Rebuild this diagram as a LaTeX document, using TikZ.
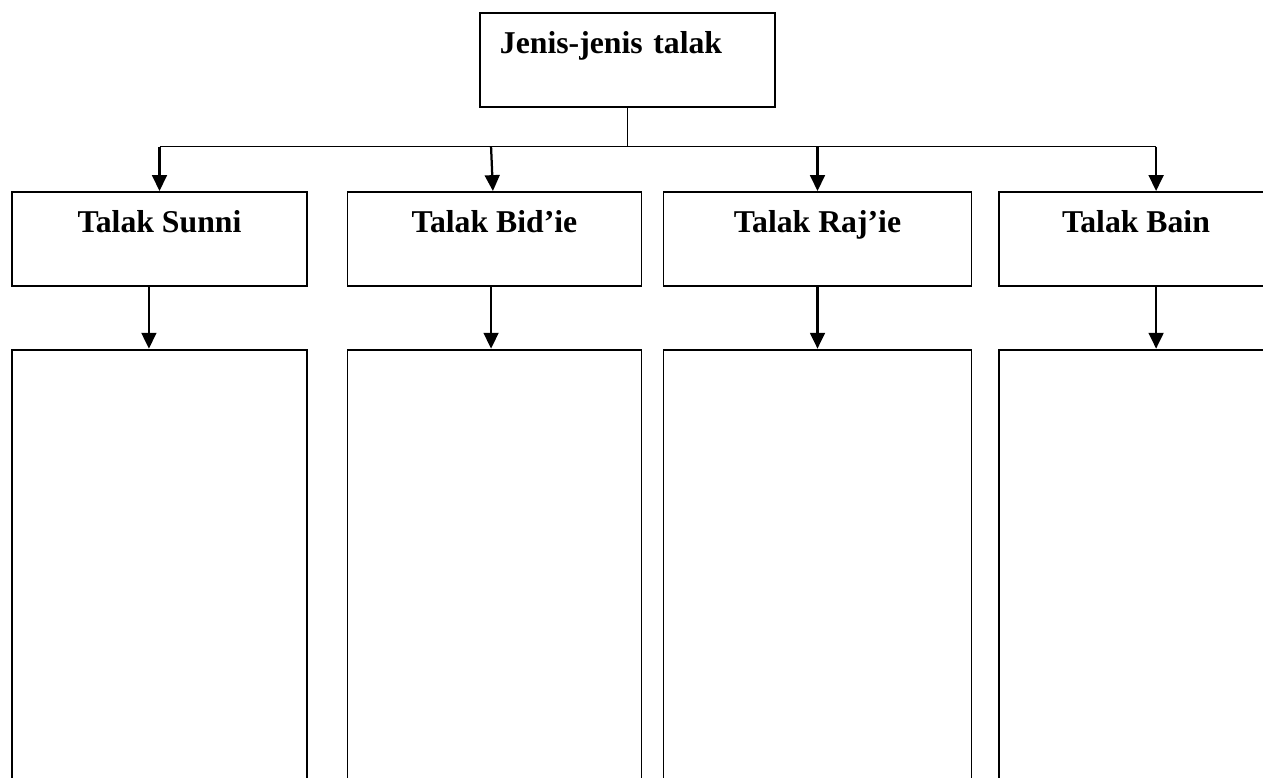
\documentclass[tikz,border=0pt]{standalone}
\usepackage{fontspec}
\setmainfont{Liberation Serif}
\usetikzlibrary{positioning,arrows.meta}

\tikzset{
  talakbox/.style={draw,line width=0.7pt,inner xsep=0pt,inner ysep=0pt,
    text height=15.5pt,text depth=20pt,anchor=north,
    font=\fontsize{12}{14}\selectfont\bfseries},
  isibox/.style={draw,line width=0.7pt,inner sep=0pt,minimum height=170pt},
  turun/.style={-{Triangle[width=5.6pt,length=6pt]},line width=0.85pt},
}

\begin{document}
\begin{tikzpicture}[x=0.378pt,y=-0.378pt]
  \path[use as bounding box,clip] (0,0) rectangle (1263,778);
  % kotak utama
  \node[talakbox,anchor=north west,text width=96.4pt,align=left,inner xsep=7.56pt] (jenis) at (479,12) {Jenis-jenis talak};
  % jenis talak
  \node[talakbox,minimum width=111.5pt] (sunni) at (159.5,191) {Talak Sunni};
  \node[talakbox,minimum width=111.1pt] (bidie) at (494.5,191) {Talak Bid’ie};
  \node[talakbox,minimum width=116.4pt] (rajie) at (817.5,191) {Talak Raj’ie};
  \node[talakbox,minimum width=103.6pt] (bain) at (1136,191) {Talak Bain};
  % kotak isi
  \node[isibox,minimum width=111.5pt,below=23.4pt of sunni] (isisunni) {};
  \node[isibox,minimum width=111.1pt,below=23.4pt of bidie] (isibidie) {};
  \node[isibox,minimum width=116.4pt,below=23.4pt of rajie] (isirajie) {};
  \node[isibox,minimum width=103.6pt,below=23.4pt of bain] (isibain) {};
  % garis cabang
  \coordinate (bus) at ([yshift=-14.7pt]jenis.south);
  \draw[line width=0.45pt] (jenis.south) -- (bus);
  \draw[line width=0.45pt] (sunni.north |- bus) -- ([xshift=7.6pt]bain.north |- bus);
  \draw[turun] (sunni.north |- bus) -- (sunni.north);
  \draw[turun] ([xshift=-1.3pt]bidie.north |- bus) -- ([xshift=-0.6pt]bidie.north);
  \draw[turun] (rajie.north |- bus) -- (rajie.north);
  \draw[turun] ([xshift=7.6pt]bain.north |- bus) -- ([xshift=7.6pt]bain.north);
  % panah ke kotak isi
  \draw[turun] ([xshift=-4pt]sunni.south) -- ([xshift=-4pt]isisunni.north);
  \draw[turun] ([xshift=-1.3pt]bidie.south) -- ([xshift=-1.3pt]isibidie.north);
  \draw[turun] (rajie.south) -- (isirajie.north);
  \draw[turun] ([xshift=7.6pt]bain.south) -- ([xshift=7.6pt]isibain.north);
\end{tikzpicture}
\end{document}
